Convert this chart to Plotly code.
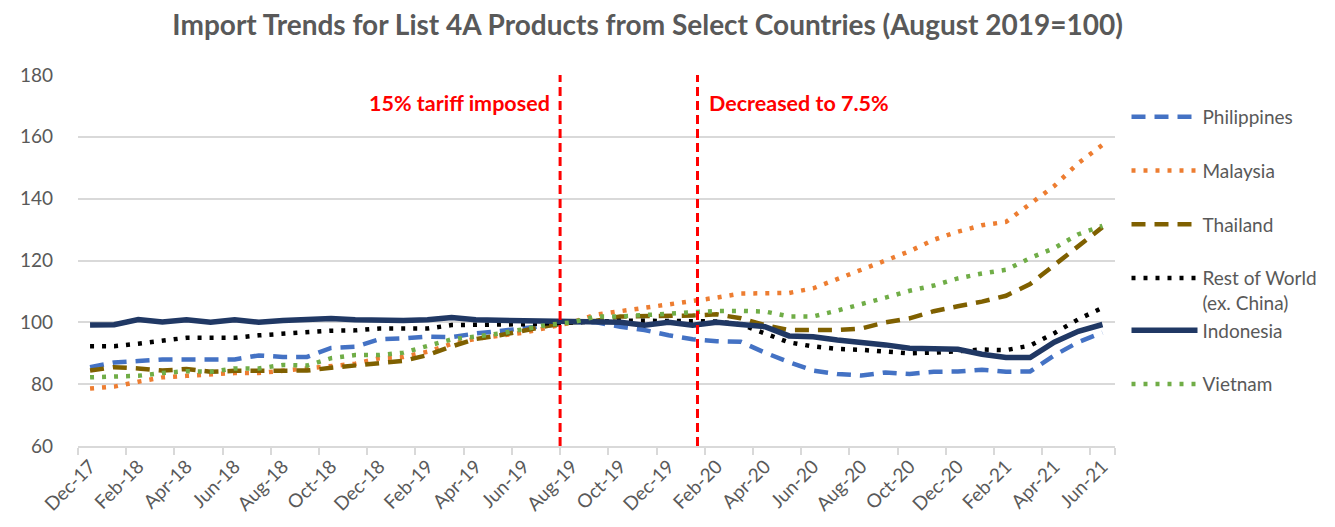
import plotly.graph_objects as go

months = ["Dec-17", "Jan-18", "Feb-18", "Mar-18", "Apr-18", "May-18", "Jun-18", "Jul-18",
          "Aug-18", "Sep-18", "Oct-18", "Nov-18", "Dec-18", "Jan-19", "Feb-19", "Mar-19",
          "Apr-19", "May-19", "Jun-19", "Jul-19", "Aug-19", "Sep-19", "Oct-19", "Nov-19",
          "Dec-19", "Jan-20", "Feb-20", "Mar-20", "Apr-20", "May-20", "Jun-20", "Jul-20",
          "Aug-20", "Sep-20", "Oct-20", "Nov-20", "Dec-20", "Jan-21", "Feb-21", "Mar-21",
          "Apr-21", "May-21", "Jun-21"]

philippines = [85.5, 87.0, 87.5, 88.0, 88.0, 88.0, 88.0, 89.3, 88.8, 88.8, 91.7, 92.1, 94.5, 94.8,
               95.4, 95.2, 96.4, 97.2, 98.0, 99.0, 100.0, 100.0, 98.6, 97.5, 95.8, 94.5, 93.9, 93.7,
               90.2, 87.1, 84.4, 83.3, 82.8, 83.8, 83.3, 84.0, 84.1, 84.7, 84.0, 84.1, 89.3, 93.6, 96.7]
malaysia = [78.6, 79.2, 80.8, 82.2, 82.7, 83.3, 83.6, 83.6, 84.4, 84.9, 85.8, 86.6, 88.4, 88.8,
            90.5, 93.0, 94.7, 95.8, 96.7, 98.3, 100.0, 102.5, 103.6, 104.5, 105.8, 106.6, 108.0, 109.3,
            109.5, 109.5, 111.0, 114.0, 117.1, 119.8, 123.0, 126.7, 129.3, 131.4, 132.5, 138.3, 144.1,
            151.5, 157.4]
thailand = [84.4, 85.5, 85.1, 84.4, 84.9, 84.0, 84.3, 84.4, 84.4, 84.4, 85.3, 85.9, 86.8, 87.5,
            89.4, 92.2, 94.6, 95.8, 97.5, 98.9, 100.0, 100.5, 101.9, 101.9, 102.0, 102.2, 102.6, 101.3,
            99.1, 97.5, 97.5, 97.5, 98.0, 100.0, 101.3, 103.6, 105.2, 106.7, 108.6, 112.4, 118.5,
            124.6, 130.8]
rest_of_world = [92.3, 92.3, 93.1, 94.2, 95.0, 95.0, 95.0, 95.8, 96.4, 96.9, 97.3, 97.4, 98.0, 98.0,
                 98.0, 99.1, 99.1, 99.1, 99.4, 99.7, 100.0, 100.5, 100.5, 100.5, 100.5, 100.5, 100.3,
                 99.3, 96.5, 93.5, 92.2, 91.4, 91.1, 90.7, 90.0, 90.2, 90.8, 91.2, 91.0, 92.5, 96.5,
                 101.0, 104.7]
indonesia = [99.1, 99.2, 100.9, 100.1, 100.8, 100.0, 100.8, 100.0, 100.6, 100.8, 101.2, 100.8, 100.6,
             100.6, 100.8, 101.6, 100.8, 100.6, 100.6, 100.2, 100.0, 100.2, 100.0, 99.1, 100.0, 99.1,
             100.0, 99.3, 98.6, 95.6, 95.3, 94.3, 93.6, 92.7, 91.6, 91.3, 91.3, 89.7, 88.6, 88.6, 93.6,
             97.1, 99.3]
vietnam = [82.2, 82.5, 82.7, 83.6, 84.2, 84.0, 85.1, 85.1, 86.2, 86.0, 88.4, 89.4, 89.4, 90.2,
           92.4, 94.5, 95.4, 96.4, 97.8, 99.2, 100.0, 101.9, 101.9, 102.4, 103.0, 103.5, 103.7, 103.7,
           103.5, 101.9, 101.9, 103.8, 105.8, 108.0, 110.2, 111.9, 114.2, 115.8, 117.0, 120.8, 124.0,
           128.5, 131.2]

tick_labels = months[::2]
y_ticks = [60, 80, 100, 120, 140, 160, 180]

# events: (label, position on the month axis, side of the label)
events = [("15% tariff imposed", 19.5, "right"), ("Decreased to 7.5%", 25.2, "left")]

FONT = "Lato"
GRAY = "#595959"

series = [
    ("Philippines", philippines, "#4472C4", 4.5, "14px,9px", "g1"),
    ("Malaysia", malaysia, "#ED7D31", 4.5, "4px,8px", "g2"),
    ("Thailand", thailand, "#7F6000", 4.5, "14px,9px", "g3"),
    ("Rest of World<br>(ex. China)", rest_of_world, "#000000", 4.5, "4px,8px", "g4"),
    ("Indonesia", indonesia, "#203864", 5.5, "solid", "g4"),
    ("Vietnam", vietnam, "#70AD47", 4.5, "4px,8px", "g6"),
]

fig = go.Figure()
for name, vals, color, width, dash, grp in series:
    fig.add_trace(go.Scatter(
        x=months, y=vals, name=name, mode="lines", legendgroup=grp,
        line=dict(color=color, width=width, dash=dash),
    ))

shapes = []
annotations = []
for label, pos, side in events:
    shapes.append(dict(type="line", xref="x", yref="paper", x0=pos, x1=pos, y0=0, y1=1,
                       line=dict(color="#FF0000", width=3, dash="9px,5px")))
    annotations.append(dict(
        x=pos, y=171, xref="x", yref="y", text="<b>" + label + "</b>", showarrow=False,
        xanchor="right" if side == "right" else "left",
        xshift=-8 if side == "right" else 10,
        font=dict(family=FONT, size=21.5, color="#FF0000"),
    ))

W, H = 1327, 519  # the page body has an 8px margin, so the figure is drawn 8px right/down
M_L, M_R, M_T, M_B = 66, 209, 67, 75

fig.update_layout(
    width=W, height=H,
    paper_bgcolor="white", plot_bgcolor="white",
    margin=dict(l=M_L, r=M_R, t=M_T, b=M_B),
    title=dict(text="<b>Import Trends for List 4A Products from Select Countries (August 2019=100)</b>",
               x=0.482, xanchor="center", y=0.967, yanchor="middle",
               font=dict(family=FONT, size=28, color=GRAY)),
    font=dict(family=FONT, color=GRAY),
    shapes=shapes,
    annotations=annotations,
    legend=dict(
        xref="container", x=(W - M_R + 0.5) / W, xanchor="left",
        y=0.938, yanchor="top",
        font=dict(family=FONT, size=19, color=GRAY),
        tracegroupgap=26, itemwidth=66, valign="top",
        bgcolor="rgba(0,0,0,0)",
    ),
    xaxis=dict(
        type="category", range=[-0.5, len(months) - 0.5],
        tickmode="array", tickvals=tick_labels, ticktext=tick_labels,
        tickson="boundaries", ticks="outside", ticklen=7, tickcolor="#D9D9D9", tickwidth=2,
        tickangle=-45, tickfont=dict(family=FONT, size=19, color=GRAY),
        showline=True, linecolor="#D9D9D9", linewidth=2, showgrid=False, zeroline=False,
    ),
    yaxis=dict(
        range=[60, 180], tickmode="array", tickvals=y_ticks,
        showgrid=True, gridcolor="#D9D9D9", gridwidth=1.5, zeroline=False, showline=False,
        ticks="", tickfont=dict(family=FONT, size=19, color=GRAY), ticklabelstandoff=24,
    ),
)

fig.write_html("out.html")
